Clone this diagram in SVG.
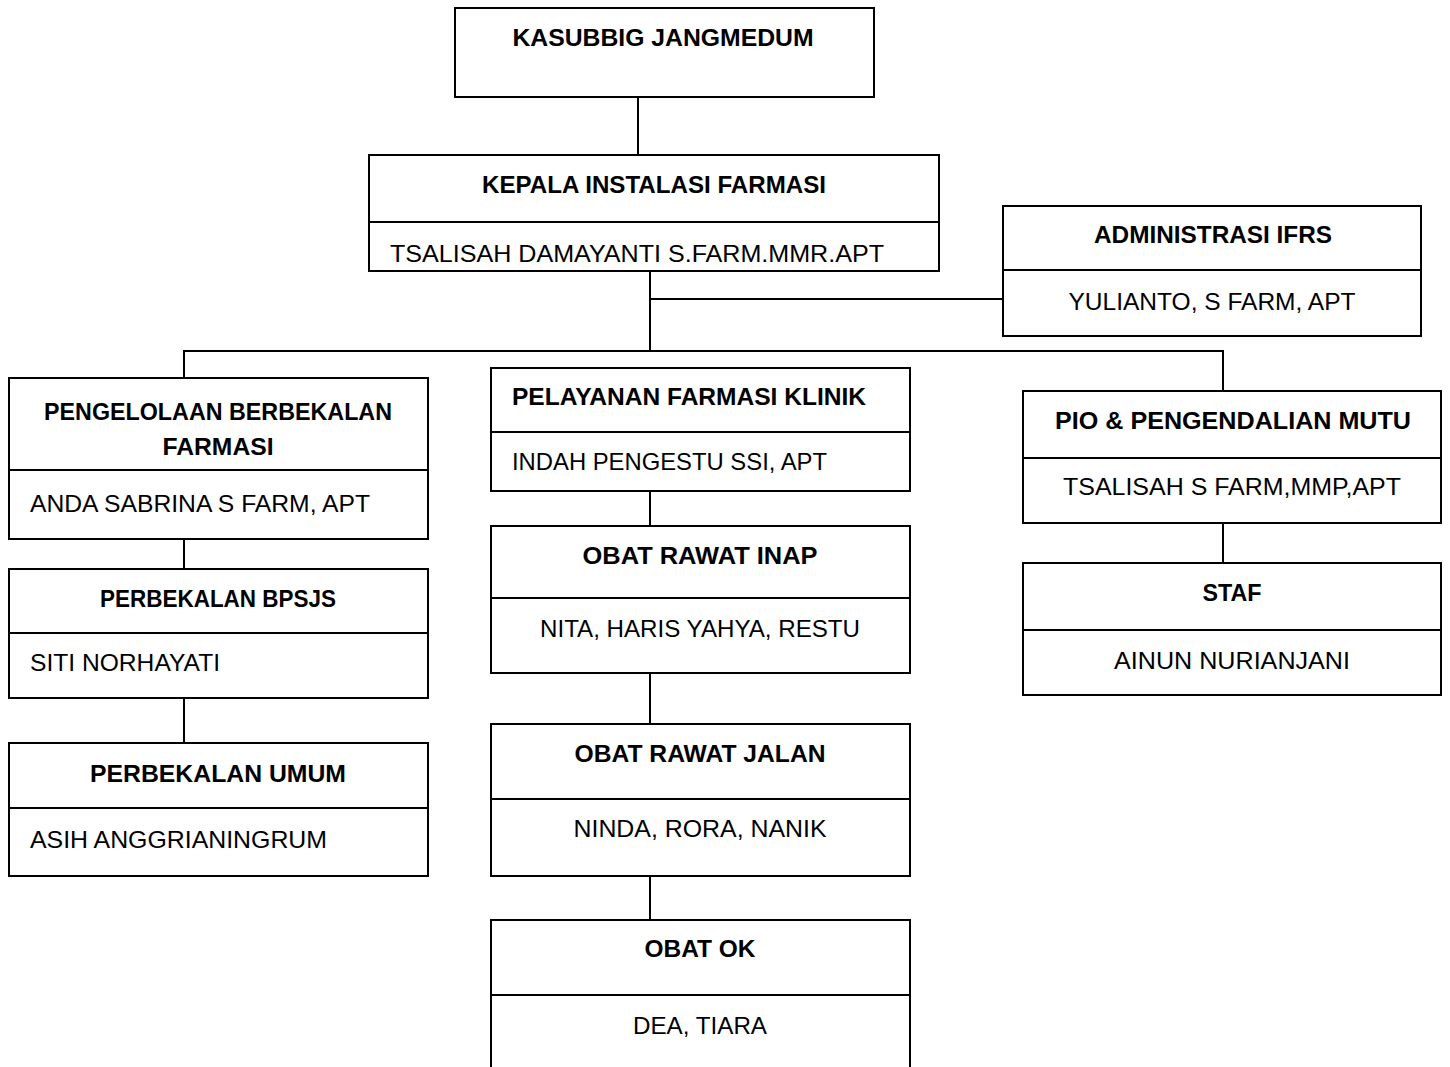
<svg xmlns="http://www.w3.org/2000/svg" width="1450" height="1067" viewBox="0 0 1450 1067">
<style>
.box{fill:#fff;stroke:#000;stroke-width:2}
.div{stroke:#000;stroke-width:2}
.ln{stroke:#000;stroke-width:2;fill:none}
.t{font-family:"Liberation Sans",Arial,sans-serif;font-size:24px;font-weight:bold;fill:#000}
.n{font-family:"Liberation Sans",Arial,sans-serif;font-size:24px;fill:#000}
.c{text-anchor:middle}
</style>
<rect width="1450" height="1067" fill="#fff"/>
<g id="connectors">
<path class="ln" d="M638 97V155"/>
<path class="ln" d="M650 271V351"/>
<path class="ln" d="M650 299H1003"/>
<path class="ln" d="M184 378V351H1223V391"/>
<path class="ln" d="M184 539V569"/>
<path class="ln" d="M184 698V743"/>
<path class="ln" d="M650 491V526"/>
<path class="ln" d="M650 673V724"/>
<path class="ln" d="M650 876V920"/>
<path class="ln" d="M1223 523V563"/>
</g>
<g id="kasubbig">
<rect class="box" x="455" y="8" width="419" height="89"/>
<text class="t c" x="663" y="46" textLength="301" lengthAdjust="spacingAndGlyphs">KASUBBIG JANGMEDUM</text>
</g>
<g id="kepala">
<rect class="box" x="369" y="155" width="570" height="116"/>
<line class="div" x1="369" y1="222" x2="939" y2="222"/>
<text class="t c" x="654" y="193" textLength="344" lengthAdjust="spacingAndGlyphs">KEPALA INSTALASI FARMASI</text>
<text class="n" x="390" y="262" textLength="494" lengthAdjust="spacingAndGlyphs">TSALISAH DAMAYANTI S.FARM.MMR.APT</text>
</g>
<g id="administrasi">
<rect class="box" x="1003" y="206" width="418" height="130"/>
<line class="div" x1="1003" y1="270" x2="1421" y2="270"/>
<text class="t c" x="1213" y="243" textLength="238" lengthAdjust="spacingAndGlyphs">ADMINISTRASI IFRS</text>
<text class="n c" x="1212" y="310" textLength="287" lengthAdjust="spacingAndGlyphs">YULIANTO, S FARM, APT</text>
</g>
<g id="pengelolaan">
<rect class="box" x="9" y="378" width="419" height="161"/>
<line class="div" x1="9" y1="470" x2="428" y2="470"/>
<text class="t c" x="218" y="420" textLength="348" lengthAdjust="spacingAndGlyphs">PENGELOLAAN BERBEKALAN</text>
<text class="t c" x="218" y="455" textLength="111" lengthAdjust="spacingAndGlyphs">FARMASI</text>
<text class="n" x="30" y="512" textLength="340" lengthAdjust="spacingAndGlyphs">ANDA SABRINA S FARM, APT</text>
</g>
<g id="bpsjs">
<rect class="box" x="9" y="569" width="419" height="129"/>
<line class="div" x1="9" y1="633" x2="428" y2="633"/>
<text class="t c" x="218" y="607" textLength="236" lengthAdjust="spacingAndGlyphs">PERBEKALAN BPSJS</text>
<text class="n" x="30" y="671" textLength="190" lengthAdjust="spacingAndGlyphs">SITI NORHAYATI</text>
</g>
<g id="umum">
<rect class="box" x="9" y="743" width="419" height="133"/>
<line class="div" x1="9" y1="808" x2="428" y2="808"/>
<text class="t c" x="218" y="782" textLength="256" lengthAdjust="spacingAndGlyphs">PERBEKALAN UMUM</text>
<text class="n" x="30" y="848" textLength="297" lengthAdjust="spacingAndGlyphs">ASIH ANGGRIANINGRUM</text>
</g>
<g id="pelayanan">
<rect class="box" x="491" y="368" width="419" height="123"/>
<line class="div" x1="491" y1="432" x2="910" y2="432"/>
<text class="t" x="512" y="405" textLength="354" lengthAdjust="spacingAndGlyphs">PELAYANAN FARMASI KLINIK</text>
<text class="n" x="512" y="470" textLength="315" lengthAdjust="spacingAndGlyphs">INDAH PENGESTU SSI, APT</text>
</g>
<g id="rawat-inap">
<rect class="box" x="491" y="526" width="419" height="147"/>
<line class="div" x1="491" y1="598" x2="910" y2="598"/>
<text class="t c" x="700" y="564" textLength="235" lengthAdjust="spacingAndGlyphs">OBAT RAWAT INAP</text>
<text class="n c" x="700" y="637" textLength="320" lengthAdjust="spacingAndGlyphs">NITA, HARIS YAHYA, RESTU</text>
</g>
<g id="rawat-jalan">
<rect class="box" x="491" y="724" width="419" height="152"/>
<line class="div" x1="491" y1="799" x2="910" y2="799"/>
<text class="t c" x="700" y="762" textLength="251" lengthAdjust="spacingAndGlyphs">OBAT RAWAT JALAN</text>
<text class="n c" x="700" y="837" textLength="253" lengthAdjust="spacingAndGlyphs">NINDA, RORA, NANIK</text>
</g>
<g id="obat-ok">
<rect class="box" x="491" y="920" width="419" height="170"/>
<line class="div" x1="491" y1="995" x2="910" y2="995"/>
<text class="t c" x="700" y="957" textLength="111" lengthAdjust="spacingAndGlyphs">OBAT OK</text>
<text class="n c" x="700" y="1034" textLength="134" lengthAdjust="spacingAndGlyphs">DEA, TIARA</text>
</g>
<g id="pio">
<rect class="box" x="1023" y="391" width="418" height="132"/>
<line class="div" x1="1023" y1="458" x2="1441" y2="458"/>
<text class="t c" x="1233" y="429" textLength="356" lengthAdjust="spacingAndGlyphs">PIO &amp; PENGENDALIAN MUTU</text>
<text class="n c" x="1232" y="495" textLength="338" lengthAdjust="spacingAndGlyphs">TSALISAH S FARM,MMP,APT</text>
</g>
<g id="staf">
<rect class="box" x="1023" y="563" width="418" height="132"/>
<line class="div" x1="1023" y1="630" x2="1441" y2="630"/>
<text class="t c" x="1232" y="601" textLength="59" lengthAdjust="spacingAndGlyphs">STAF</text>
<text class="n c" x="1232" y="669" textLength="236" lengthAdjust="spacingAndGlyphs">AINUN NURIANJANI</text>
</g>
</svg>
